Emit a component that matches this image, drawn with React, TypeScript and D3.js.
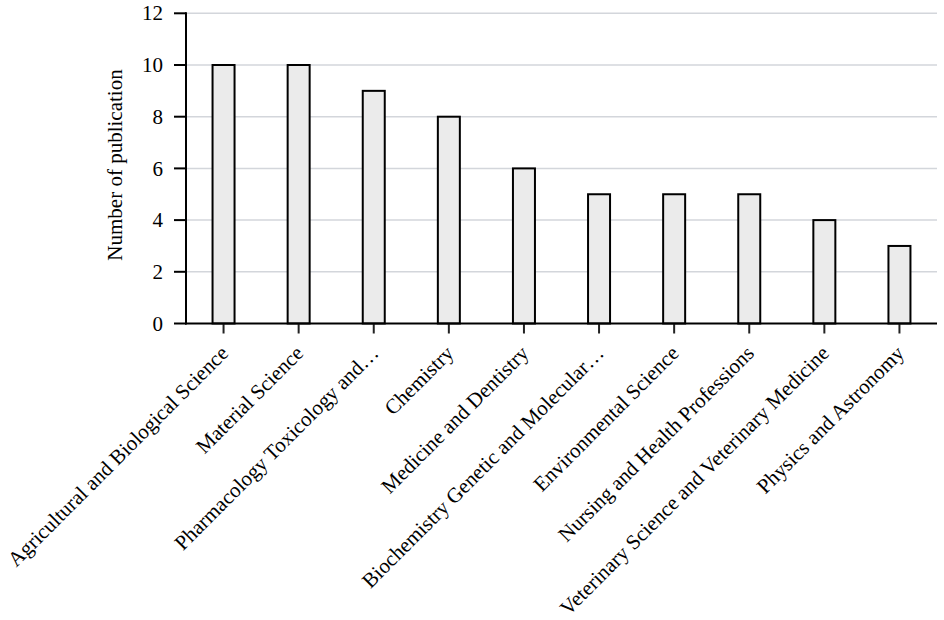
import React from "react";
import * as d3 from "d3";

const categories = [
  "Agricultural and Biological Science",
  "Material Science",
  "Pharmacology Toxicology and…",
  "Chemistry",
  "Medicine and Dentistry",
  "Biochemistry Genetic and Molecular…",
  "Environmental Science",
  "Nursing and Health Professions",
  "Veterinary Science and Veterinary Medicine",
  "Physics and Astronomy",
];
const values = [10, 10, 9, 8, 6, 5, 5, 5, 4, 3];
const yTicks = [0, 2, 4, 6, 8, 10, 12];

const W = 944;
const H = 620;
const left = 186;
const right = 937;
const top = 13.3;
const bottom = 323.5;
const font = "'Liberation Serif', 'Times New Roman', serif";

export default function App() {
  const x = d3.scaleBand<string>().domain(categories).range([left, right]).paddingInner(0).paddingOuter(0);
  const y = d3.scaleLinear().domain([0, 12]).range([bottom, top]);
  const bw = 22;
  return (
    <svg width={W} height={H} style={{ position: "absolute", left: 0, top: 0 }} fontFamily={font}>
      {yTicks.map((t) => (
        <g key={t}>
          {t > 0 && (
            <line x1={left} x2={right} y1={y(t)} y2={y(t)} stroke="#d3d6db" strokeWidth={1.5} />
          )}
          <line x1={174} x2={left} y1={y(t)} y2={y(t)} stroke="#000" strokeWidth={2} />
          <text x={163} y={y(t)} dy="0.34em" textAnchor="end" fontSize={21} fill="#000">
            {t}
          </text>
        </g>
      ))}
      {categories.map((c, i) => {
        const cx = x(c)! + x.bandwidth() / 2;
        return (
          <g key={c}>
            <rect
              x={cx - bw / 2}
              y={y(values[i])}
              width={bw}
              height={y(0) - y(values[i])}
              fill="#ebebeb"
              stroke="#000"
              strokeWidth={2}
            />
            <line x1={cx} x2={cx} y1={bottom} y2={bottom + 10} stroke="#222" strokeWidth={2} />
            <text
              transform={`translate(${cx + 6},${bottom + 31}) rotate(-45)`}
              textAnchor="end"
              fontSize={21}
              fill="#000"
            >
              {c}
            </text>
          </g>
        );
      })}
      <line x1={left} x2={left} y1={top - 1} y2={bottom + 1} stroke="#000" strokeWidth={2} />
      <line x1={left - 1} x2={right} y1={bottom} y2={bottom} stroke="#000" strokeWidth={2} />
      <text
        transform={`translate(122,${165}) rotate(-90)`}
        textAnchor="middle"
        fontSize={21}
        fill="#000"
      >
        Number of publication
      </text>
    </svg>
  );
}
